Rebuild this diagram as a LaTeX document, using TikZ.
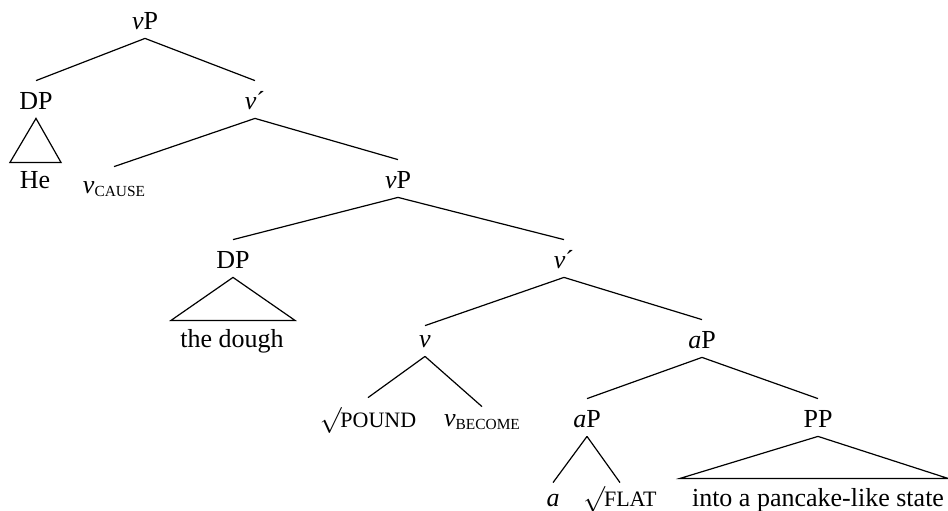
\documentclass[tikz,border=0pt]{standalone}
\usepackage{fix-cm}
\usepackage{fontspec}
\setmainfont{Liberation Serif}
\newcommand{\subsc}[1]{\raisebox{-1.5pt}{\fontsize{7.7}{9}\selectfont #1}}
\newcommand{\rootlbl}[1]{$\surd$\kern-0.5pt{\fontsize{11}{13}\selectfont #1}}
\begin{document}
\begin{tikzpicture}[x=0.5pt,y=-0.5pt,
  lbl/.style={font=\fontsize{13}{15.6}\selectfont, anchor=base, inner xsep=0pt,
    inner ysep=4.5pt, text height=9.5pt, text depth=0pt},
  edge/.style={draw, line width=0.6pt}]
\useasboundingbox (0,0) rectangle (948,510);
% labels
\node[lbl] (vP1) at (145,29) {\textit{v}P};
\node[lbl] (DP1) at (36,109) {DP};
\node[lbl] (vb1) at (255,109) {\textit{v}´};
\node[lbl] (He) at (35,188) {He};
\node[lbl, text height=8.5pt] (vC) at (114,193) {\textit{v}\subsc{CAUSE}};
\node[lbl] (vP2) at (398,188) {\textit{v}P};
\node[lbl] (DP2) at (233,268) {DP};
\node[lbl] (vb2) at (564,268) {\textit{v}´};
\node[lbl] (dough) at (232,347) {the dough};
\node[lbl, text height=6pt] (v) at (425,347) {\textit{v}};
\node[lbl] (aP1) at (702,348) {\textit{a}P};
\node[lbl, text height=10pt] (pound) at (368,427) {\rootlbl{POUND}};
\node[lbl, text height=5pt] (vB) at (482,426) {\textit{v}\subsc{BECOME}};
\node[lbl] (aP2) at (587,427) {\textit{a}P};
\node[lbl] (PP) at (818,427) {PP};
\node[lbl, text height=7pt] (a) at (553,506) {\textit{a}};
\node[lbl, text height=7pt] (flat) at (620,506) {\rootlbl{FLAT}};
\node[lbl] (state) at (818,506) {into a pancake-like state};
% branches
\draw[edge] (vP1.south) -- (DP1.north);
\draw[edge] (vP1.south) -- (vb1.north);
\draw[edge] (vb1.south) -- (vC.north);
\draw[edge] (vb1.south) -- (vP2.north);
\draw[edge] (vP2.south) -- (DP2.north);
\draw[edge] (vP2.south) -- (vb2.north);
\draw[edge] (vb2.south) -- (v.north);
\draw[edge] (vb2.south) -- (aP1.north);
\draw[edge] (v.south) -- (pound.north);
\draw[edge] (v.south) -- (vB.north);
\draw[edge] (aP1.south) -- (aP2.north);
\draw[edge] (aP1.south) -- (PP.north);
\draw[edge] (aP2.south) -- (a.north);
\draw[edge] (aP2.south) -- (flat.north);
% triangles
\draw[edge] (DP1.south) -- ++(-26,44) -- ++(51,0) -- cycle;
\draw[edge] (DP2.south) -- ++(-62,43) -- ++(124,0) -- cycle;
\draw[edge] (PP.south) -- ++(-138,42) -- ++(268,0) -- cycle;
\end{tikzpicture}
\end{document}
